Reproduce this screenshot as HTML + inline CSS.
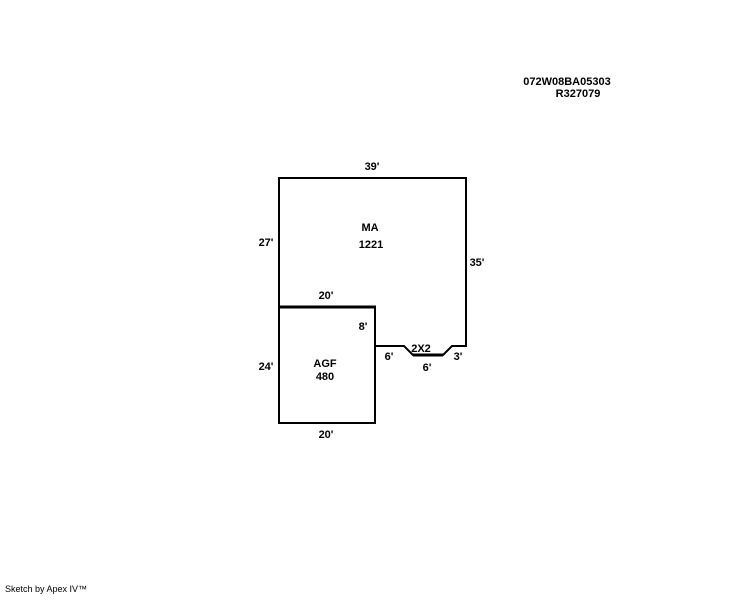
<!DOCTYPE html>
<html><head><meta charset="utf-8"><style>
html,body{margin:0;padding:0;background:#fff;}
svg text{font-family:"Liberation Sans",sans-serif;font-weight:bold;font-size:11px;fill:#000;}
</style></head><body>
<svg width="744" height="595" viewBox="0 0 744 595" xmlns="http://www.w3.org/2000/svg">
<g fill="none" stroke="#000" stroke-width="2">
<polyline points="279,307 279,178 466,178 466,346 452,346 443,355 413,355 404,346 375,346 375,307"/>
<polyline points="279,307 279,423 375,423 375,307"/>
</g>
<line x1="278" y1="307" x2="376" y2="307" stroke="#000" stroke-width="3"/>
<line x1="413" y1="355" x2="443" y2="355" stroke="#000" stroke-width="3"/>
<g text-anchor="middle">
<text x="567" y="85">072W08BA05303</text>
<text x="578" y="97">R327079</text>
<text x="372" y="170">39'</text>
<text x="370" y="231">MA</text>
<text x="371" y="248">1221</text>
<text x="266" y="246">27'</text>
<text x="477" y="266">35'</text>
<text x="326" y="299">20'</text>
<text x="363" y="330">8'</text>
<text x="421" y="352">2X2</text>
<text x="389" y="360">6'</text>
<text x="427" y="371">6'</text>
<text x="458" y="360">3'</text>
<text x="266" y="370">24'</text>
<text x="325" y="367">AGF</text>
<text x="325" y="380">480</text>
<text x="326" y="438">20'</text>
</g>
<text x="5" y="592" style="font-weight:normal;font-size:9px">Sketch by Apex IV™</text>
</svg>
</body></html>
